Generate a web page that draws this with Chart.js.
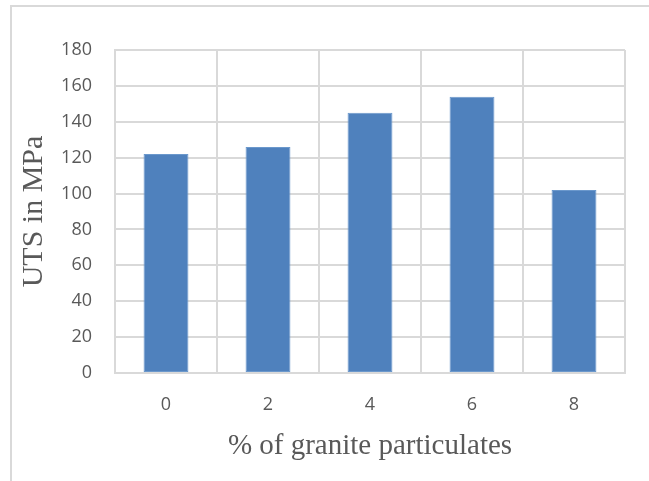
<!DOCTYPE html>
<html><head><meta charset="utf-8">
<script src="https://cdn.jsdelivr.net/npm/chart.js@4"></script>
<style>
html,body{margin:0;padding:0;background:#fff;}
#wrap{position:absolute;left:0;top:0;width:649px;height:481px;}
#frame{position:absolute;left:10px;top:5px;width:660px;height:500px;border:2px solid #d9d9d9;box-sizing:border-box;}
canvas{position:absolute;left:0;top:0;}
</style></head>
<body><div id="wrap"><div id="frame"></div><canvas id="c" width="649" height="481"></canvas></div>
<script>
const categories = ['0','2','4','6','8'];
const utsValues = [122, 126, 145, 154, 102];
const yTicks = [0,20,40,60,80,100,120,140,160,180];
const tickFont = { family: "'Open Sans', sans-serif", size: 18 };

new Chart(document.getElementById('c'), {
  type: 'bar',
  data: {
    labels: categories,
    datasets: [{
      data: utsValues,
      backgroundColor: '#4f81bd',
      borderColor: '#6b98cc',
      borderWidth: 1,
      borderSkipped: false,
      barPercentage: 0.44,
      categoryPercentage: 1.0
    }]
  },
  options: {
    responsive: false,
    animation: false,
    devicePixelRatio: 1,
    layout: { padding: { left: 0, right: 24, top: 50, bottom: 15 } },
    plugins: { legend: { display: false }, tooltip: { enabled: false } },
    scales: {
      x: {
        afterFit: (axis) => { axis.height = 93; },
        grid: { color: '#d9d9d9', lineWidth: 2, drawTicks: false, offset: true },
        border: { color: '#d9d9d9', width: 2 },
        ticks: { color: '#595959', font: tickFont, padding: 21 },
        title: { display: true, text: '% of granite particulates', color: '#595959',
                 font: { family: 'Liberation Serif', size: 29 }, padding: { top: 4, bottom: 2 } }
      },
      y: {
        min: 0, max: 180,
        afterFit: (axis) => { axis.width = 115; },
        afterBuildTicks: (axis) => { axis.ticks = yTicks.map(v => ({ value: v })); },
        grid: { color: '#d9d9d9', lineWidth: 2, drawTicks: false },
        border: { color: '#d9d9d9', width: 2 },
        ticks: { color: '#595959', font: tickFont, padding: 23 },
        title: { display: true, text: 'UTS in MPa', color: '#595959',
                 font: { family: 'Liberation Serif', size: 30 }, padding: { top: 16, bottom: 4 } }
      }
    }
  }
});
</script></body></html>
